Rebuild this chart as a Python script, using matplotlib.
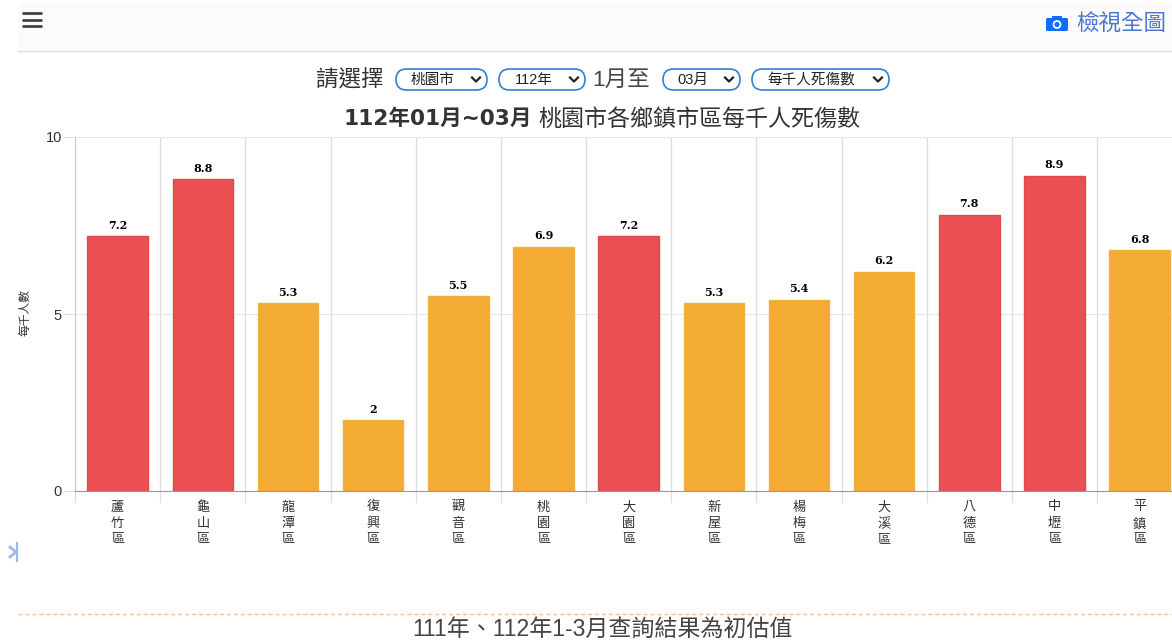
import matplotlib
matplotlib.use('Agg')
import matplotlib.pyplot as plt
from matplotlib.patches import FancyBboxPatch, Rectangle, Circle

plt.rcParams['font.family'] = ['Liberation Sans', 'Noto Sans CJK TC', 'DejaVu Sans']

# data
districts = ['蘆竹區', '龜山區', '龍潭區', '復興區', '觀音區', '桃園區', '大園區',
             '新屋區', '楊梅區', '大溪區', '八德區', '中壢區', '平鎮區']
values = [7.2, 8.8, 5.3, 2, 5.5, 6.9, 7.2, 5.3, 5.4, 6.2, 7.8, 8.9, 6.8]
value_labels = ['7.2', '8.8', '5.3', '2', '5.5', '6.9', '7.2', '5.3', '5.4', '6.2', '7.8', '8.9', '6.8']
y_ticks = [0, 5, 10]
red_from = 7.0

W, H = 1172, 640
fig = plt.figure(figsize=(W / 100, H / 100), dpi=100)

# page furniture, in pixel coordinates
page = fig.add_axes([0, 0, 1, 1])
page.set_xlim(0, W)
page.set_ylim(H, 0)
page.axis('off')

page.add_patch(Rectangle((18, 2), W - 18, 48, fc='#fbfbfb', ec='none'))
page.plot([18, W], [50.5, 50.5], color='#dcdcdc', lw=1)
page.plot([18, W], [614, 614], color='#f7c193', lw=1, ls=(0, (3, 2)))

for y in [13, 19.5, 26]:
    page.plot([22, 42], [y, y], color='#3a3a3a', lw=1.9, solid_capstyle='butt')

# camera icon
page.add_patch(FancyBboxPatch((1046, 18), 22, 13, boxstyle='round,pad=0,rounding_size=1.5', fc='#0d6efd', ec='none'))
page.add_patch(Rectangle((1052, 15.5), 10, 3, fc='#0d6efd', ec='none'))
page.add_patch(Circle((1057, 24.5), 4.4, fc='white', ec='none'))
page.add_patch(Circle((1057, 24.5), 2.6, fc='#0d6efd', ec='none'))
page.text(1076, 25, '檢視全圖', fontsize=16.2, color='#4a76d0', va='center', ha='left')

page.text(316, 80.5, '請選擇', fontsize=16.2, color='#333333', va='center', ha='left')
page.text(592, 80.5, '1月至', fontsize=16.2, color='#444444', va='center', ha='left')


def pill(x0, x1, label, text_x):
    page.add_patch(FancyBboxPatch((x0, 69), x1 - x0, 21, boxstyle='round,pad=0,rounding_size=10.5',
                                  fc='white', ec='#2f80d8', lw=1.2))
    page.text(text_x, 80, label, fontsize=10.5, color='#222222', va='center', ha='left')
    page.plot([x1 - 15, x1 - 11, x1 - 7], [77.5, 81.5, 77.5], color='#222222', lw=1.6)


pill(396, 487, '桃園市', 411)
pill(499, 585, '112年', 515)
pill(663, 740, '03月', 677)
pill(752, 889, '每千人死傷數', 767)

page.text(343, 119, '112年01月~03月', fontsize=15.6, fontweight='bold',
          family=['DejaVu Sans', 'Noto Sans CJK TC'], color='#333333', ha='left', va='center')
page.text(860, 119, '桃園市各鄉鎮市區每千人死傷數', fontsize=16.6, fontweight='medium',
          color='#333333', ha='right', va='center')
page.text(602, 629, '111年、112年1-3月查詢結果為初估值', fontsize=16.6, color='#444444',
          ha='center', va='center')

# small collapse arrow on the left edge
page.plot([16.5, 16.5], [543, 561], color='#9dbce4', lw=1.6)
page.plot([10, 16, 10], [547, 552, 557], color='#9dbce4', lw=2)

# chart
ax = fig.add_axes([75 / W, 1 - 491 / H, (W - 75) / W, (491 - 137) / H])
ax.patch.set_alpha(0)
x = list(range(len(districts)))
colors = ['#e94f53' if v > red_from else '#f3ab33' for v in values]
edges = ['#dc4a4e' if v > red_from else '#f0b040' for v in values]
ax.bar(x, values, width=0.71, color=colors, edgecolor=edges, linewidth=1, zorder=3)
for i, v in enumerate(values):
    ax.annotate(value_labels[i], (i, v), xytext=(0, 4), textcoords='offset points', ha='center', va='bottom',
                fontsize=8, fontweight='bold', family='DejaVu Serif', color='black', zorder=4)

ax.set_xlim(-0.5, 12.38)
ax.set_ylim(0, 10)
ax.set_yticks(y_ticks)
ax.set_yticklabels([str(t) for t in y_ticks], fontsize=10.5, color='#333333')
ax.set_xticks(x)
ax.set_xticklabels(['\n'.join(d) for d in districts], fontsize=9.5, color='#333333', linespacing=1.45)
ax.tick_params(axis='x', length=0, pad=7.5)
ax.tick_params(axis='y', length=8.5, width=0.8, color='#dddddd', pad=1)
ax.grid(axis='y', color='#e6e6e6', lw=0.8, zorder=0)
for i in range(len(districts)):
    ax.plot([i - 0.5, i - 0.5], [-0.31, 10], color='#dddddd', lw=0.9, zorder=1, clip_on=False)
for s in ['top', 'right']:
    ax.spines[s].set_visible(False)
ax.spines['left'].set_color('#cccccc')
ax.spines['bottom'].set_color('#999999')
ax.spines['bottom'].set_zorder(5)
ax.set_ylabel('每千人數', fontsize=8.5, color='#333333', labelpad=0)
ax.yaxis.set_label_coords(-43 / (W - 75), 0.503)

fig.savefig('out.png', dpi=100)
